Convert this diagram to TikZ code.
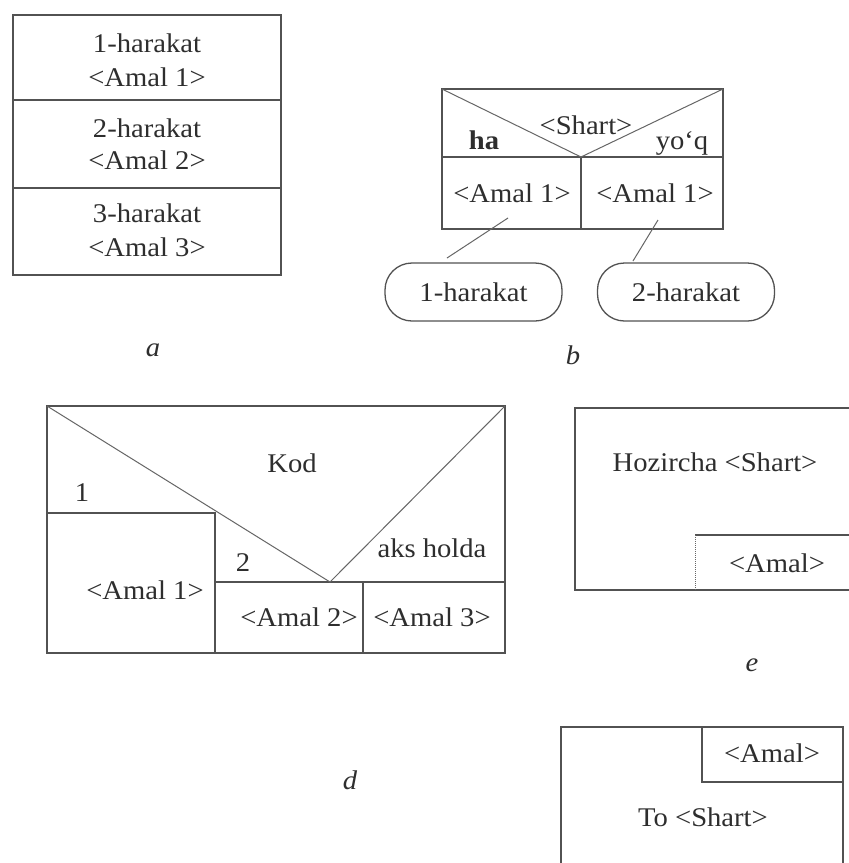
\documentclass[tikz,border=0pt]{standalone}
\usepackage{fontspec}
\setmainfont{Liberation Serif}[FakeStretch=1.06]
\tikzset{
  ln/.style={draw=black!68, line width=1.3pt},
  thin/.style={draw=black!60, line width=1pt},
  txt/.style={font=\fontsize{27}{30}\selectfont, text=black!82, inner sep=0pt},
  lbl/.style={font=\fontsize{27}{30}\selectfont\itshape, text=black!82, inner sep=0pt},
  oval/.style={draw=black!68, line width=1.3pt, rounded corners=27pt, minimum width=177pt, minimum height=58pt, inner sep=0pt, font=\fontsize{27}{30}\selectfont, text=black!82}
}
\begin{document}
\begin{tikzpicture}[x=1pt,y=-1pt]
\useasboundingbox[fill=white] (0,0) rectangle (849,863);

% ---- a ----
\draw[ln] (13,15) rectangle (281,275);
\draw[ln] (13,100) -- (281,100);
\draw[ln] (13,188) -- (281,188);
\node[txt] (a1h) at (147,43) {1-harakat};
\node[txt] (a1a) at (147,77) {<Amal 1>};
\node[txt] (a2h) at (147,128) {2-harakat};
\node[txt] (a2a) at (147,160) {<Amal 2>};
\node[txt] (a3h) at (147,213) {3-harakat};
\node[txt] (a3a) at (147,247) {<Amal 3>};
\node[lbl] (la) at (153,350) {a};

% ---- b ----
\draw[ln] (442,89) rectangle (723,229);
\draw[ln] (442,157) -- (723,157);
\draw[ln] (581,157) -- (581,229);
\draw[thin] (442,89) -- (581,157) -- (723,89);
\node[txt] (bsh) at (586,125) {<Shart>};
\node[txt, font=\fontsize{27}{30}\selectfont\bfseries] (bha) at (484,140) {ha};
\node[txt] (byq) at (682,143) {yo‘q};
\node[txt] (bb1) at (512,193) {<Amal 1>};
\node[txt] (bb2) at (655,193) {<Amal 1>};
\node[oval] (o1) at (473.5,292) {1-harakat};
\node[oval] (o2) at (686,292) {2-harakat};
\coordinate (k1a) at (508,218);
\coordinate (k1b) at (447,258);
\coordinate (k2a) at (658,220);
\coordinate (k2b) at (633,261);
\draw[thin] (k1a) -- (k1b);
\draw[thin] (k2a) -- (k2b);
\node[lbl] (lb) at (573,355) {b};

% ---- d ----
\draw[ln] (47,406) rectangle (505,653);
\draw[ln] (47,513) -- (215,513) -- (215,653);
\draw[ln] (215,582) -- (505,582);
\draw[ln] (363,582) -- (363,653);
\draw[thin] (47,406) -- (330,582) -- (505,406);
\node[txt] (dk) at (292,463) {Kod};
\node[txt] (d1n) at (82,493) {1};
\node[txt] (d2n) at (243,563) {2};
\node[txt] (dak) at (432,548) {aks holda};
\node[txt] (dd1) at (145,590) {<Amal 1>};
\node[txt] (dd2) at (299,617) {<Amal 2>};
\node[txt] (dd3) at (432,617) {<Amal 3>};
\node[lbl] (ld) at (350,780) {d};

% ---- e ----
\draw[ln] (849,408) -- (575,408) -- (575,590) -- (849,590);
\draw[ln] (849,535) -- (695,535);
\draw[thin, densely dotted] (695,535) -- (695,590);
\node[txt] (eh) at (715,462) {Hozircha <Shart>};
\node[txt] (ea) at (777,563) {<Amal>};
\node[lbl] (le) at (752,665) {e};

% ---- last ----
\draw[ln] (561,863) -- (561,727) -- (843,727) -- (843,863);
\draw[ln] (702,727) -- (702,782) -- (843,782);
\node[txt] (fa) at (772,753) {<Amal>};
\node[txt] (ft) at (703,817) {To <Shart>};
\end{tikzpicture}
\end{document}
